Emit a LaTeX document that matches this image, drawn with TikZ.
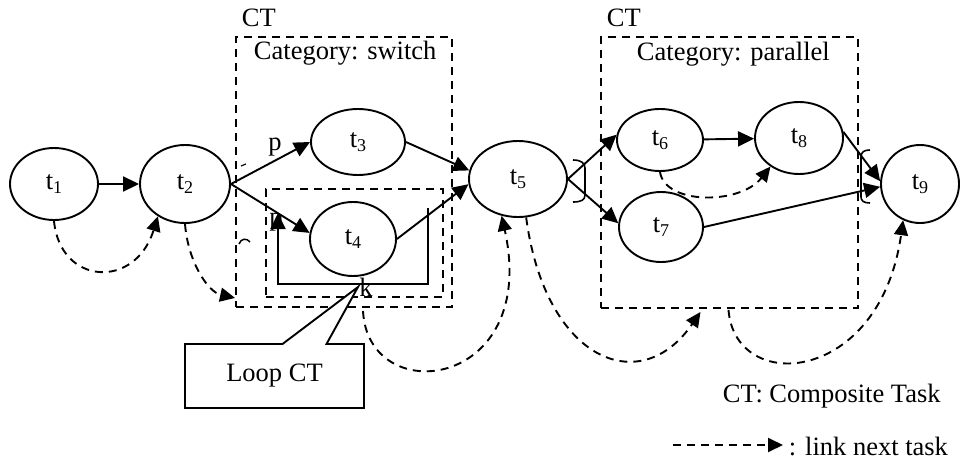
\documentclass[tikz,border=0pt]{standalone}
\usepackage{fontspec}
\setmainfont{Liberation Serif}
\usetikzlibrary{arrows.meta,shapes.geometric,shapes.callouts,calc}
% task name with a lowered index
\newcommand\tsub[1]{t\raisebox{-4pt}{\fontsize{18}{20}\selectfont #1}}

\begin{document}
\begin{tikzpicture}[x=1pt,y=-1pt,line width=1.9pt,
  font=\fontsize{26.5}{31}\selectfont,
  task/.style={ellipse,draw,fill=white,inner sep=0pt},
  flow/.style={-{Triangle[length=16pt,width=15pt]}},
  nextlink/.style={dash pattern=on 8pt off 6pt,-{Triangle[length=15pt,width=14pt]}},
  ctbox/.style={draw,dash pattern=on 8pt off 6pt,inner sep=0pt},
  lbl/.style={anchor=base west,inner sep=0pt},
  glyph/.style={anchor=base,inner sep=0pt},
  bracket/.style={line width=1.6pt}
]
\useasboundingbox (0,0) rectangle (964,463);

% composite task frames
\node[ctbox,minimum width=216pt,minimum height=270pt] (sw) at (344,172) {};
\node[ctbox,minimum width=257pt,minimum height=271pt] (pa) at (729.5,172.5) {};
\node[ctbox,minimum width=177pt,minimum height=108pt] (lp) at (354.5,243) {};

\node[lbl] (swct)  at (241,26) {CT};
\node[lbl] (swcat) at (253,59) {Category: switch};
\node[lbl] (pact)  at (606,26) {CT};
\node[lbl] (pacat) at (636,60) {Category: parallel};

% tasks
\node[task,minimum width=88pt,minimum height=72pt] (t1) at (54,184)  {\tsub1};
\node[task,minimum width=90pt,minimum height=78pt] (t2) at (185,184) {\tsub2};
\node[task,minimum width=94pt,minimum height=66pt] (t3) at (358,142) {\tsub3};
\node[task,minimum width=86pt,minimum height=74pt] (t4) at (353,239) {\tsub4};
\node[task,minimum width=98pt,minimum height=76pt] (t5) at (518,179) {\tsub5};
\node[task,minimum width=86pt,minimum height=62pt] (t6) at (660,140) {\tsub6};
\node[task,minimum width=84pt,minimum height=70pt] (t7) at (661,227) {\tsub7};
\node[task,minimum width=88pt,minimum height=72pt] (t8) at (799,138) {\tsub8};
\node[task,minimum width=78pt,minimum height=78pt] (t9) at (920,184) {\tsub9};

% control flow
\draw[flow] (t1) -- (t2);
\draw[flow] (t2.east) -- (t3.west);
\draw[flow] (t2.east) -- (t4.172);
\draw[flow] (t3.east) -- (t5.170);
\draw[flow] (t4.east) -- (t5.186);
\draw[flow] (t5.east) -- (t6.173);
\draw[flow] (t5.east) -- (t7.175);
\draw[flow] (t6) -- (t8);
\draw[flow] (t8.8) -- (t9.176);
\draw[flow] (t7.east) -- (t9.184);

% loop around t4
\coordinate (lpa) at (428,208);
\coordinate (lpb) at (428,284);
\coordinate (lpc) at (278,284);
\coordinate (lpd) at (278,213);
\draw[flow] (lpa) -- (lpb) -- (lpc) -- (lpd);

\node[glyph] (p1) at (275,150) {p};
\node[glyph] (p2) at (276,225) {p};

% split / join brackets
\draw[bracket] (573,160) .. controls (581,160) and (585,163) .. (585,168)
  -- (585,195) .. controls (585,200) and (581,202) .. (573,202);
\draw[bracket] (870,150) .. controls (864,150) and (861,152) .. (861,157)
  -- (861,197) .. controls (861,201) and (864,203) .. (870,203);

% small marks beside the switch frame
\draw[line width=1.2pt] (241,166) -- (246,164);
\draw[line width=1.5pt] (239,244) .. controls (241,238) and (247,238) .. (250,242);

% links to the next task
\coordinate (swIn)  at ($(sw.south west)+(0,-10)$);
\coordinate (swOut) at ($(sw.south)+(19,3)$);
\coordinate (paIn)  at ($(pa.south)+(-29,3)$);
\coordinate (paOut) at ($(pa.south)+(-1,1)$);

\draw[nextlink] (t1.south) .. controls (60,285) and (135,290) .. (t2.230);
\draw[nextlink] (t2.south) .. controls (188,262) and (208,292) .. (swIn);
\draw[nextlink] (swOut) .. controls (368,410) and (540,390) .. (t5.246);
\draw[nextlink] (t5.282) .. controls (545,360) and (640,400) .. (paIn);
\draw[nextlink] (paOut) .. controls (735,395) and (880,385) .. (t9.245);
\draw[nextlink] (t6.south) .. controls (665,205) and (740,205) .. (t8.225);

% loop callout
\node[rectangle callout,draw,fill=white,minimum width=179pt,minimum height=64pt,
  callout absolute pointer={(358,287)},callout pointer width=44pt] (loopct) at (274.5,376) {Loop CT};
\node[glyph] (k) at (366,296) {k};

% legend
\node[lbl] (legct) at (722,402) {CT: Composite Task};
\coordinate (lga) at (673,445);
\coordinate (lgb) at (783,445);
\draw[nextlink] (lga) -- (lgb);
\node[lbl] (leglink) at (788,455) {: link next task};
\end{tikzpicture}
\end{document}
